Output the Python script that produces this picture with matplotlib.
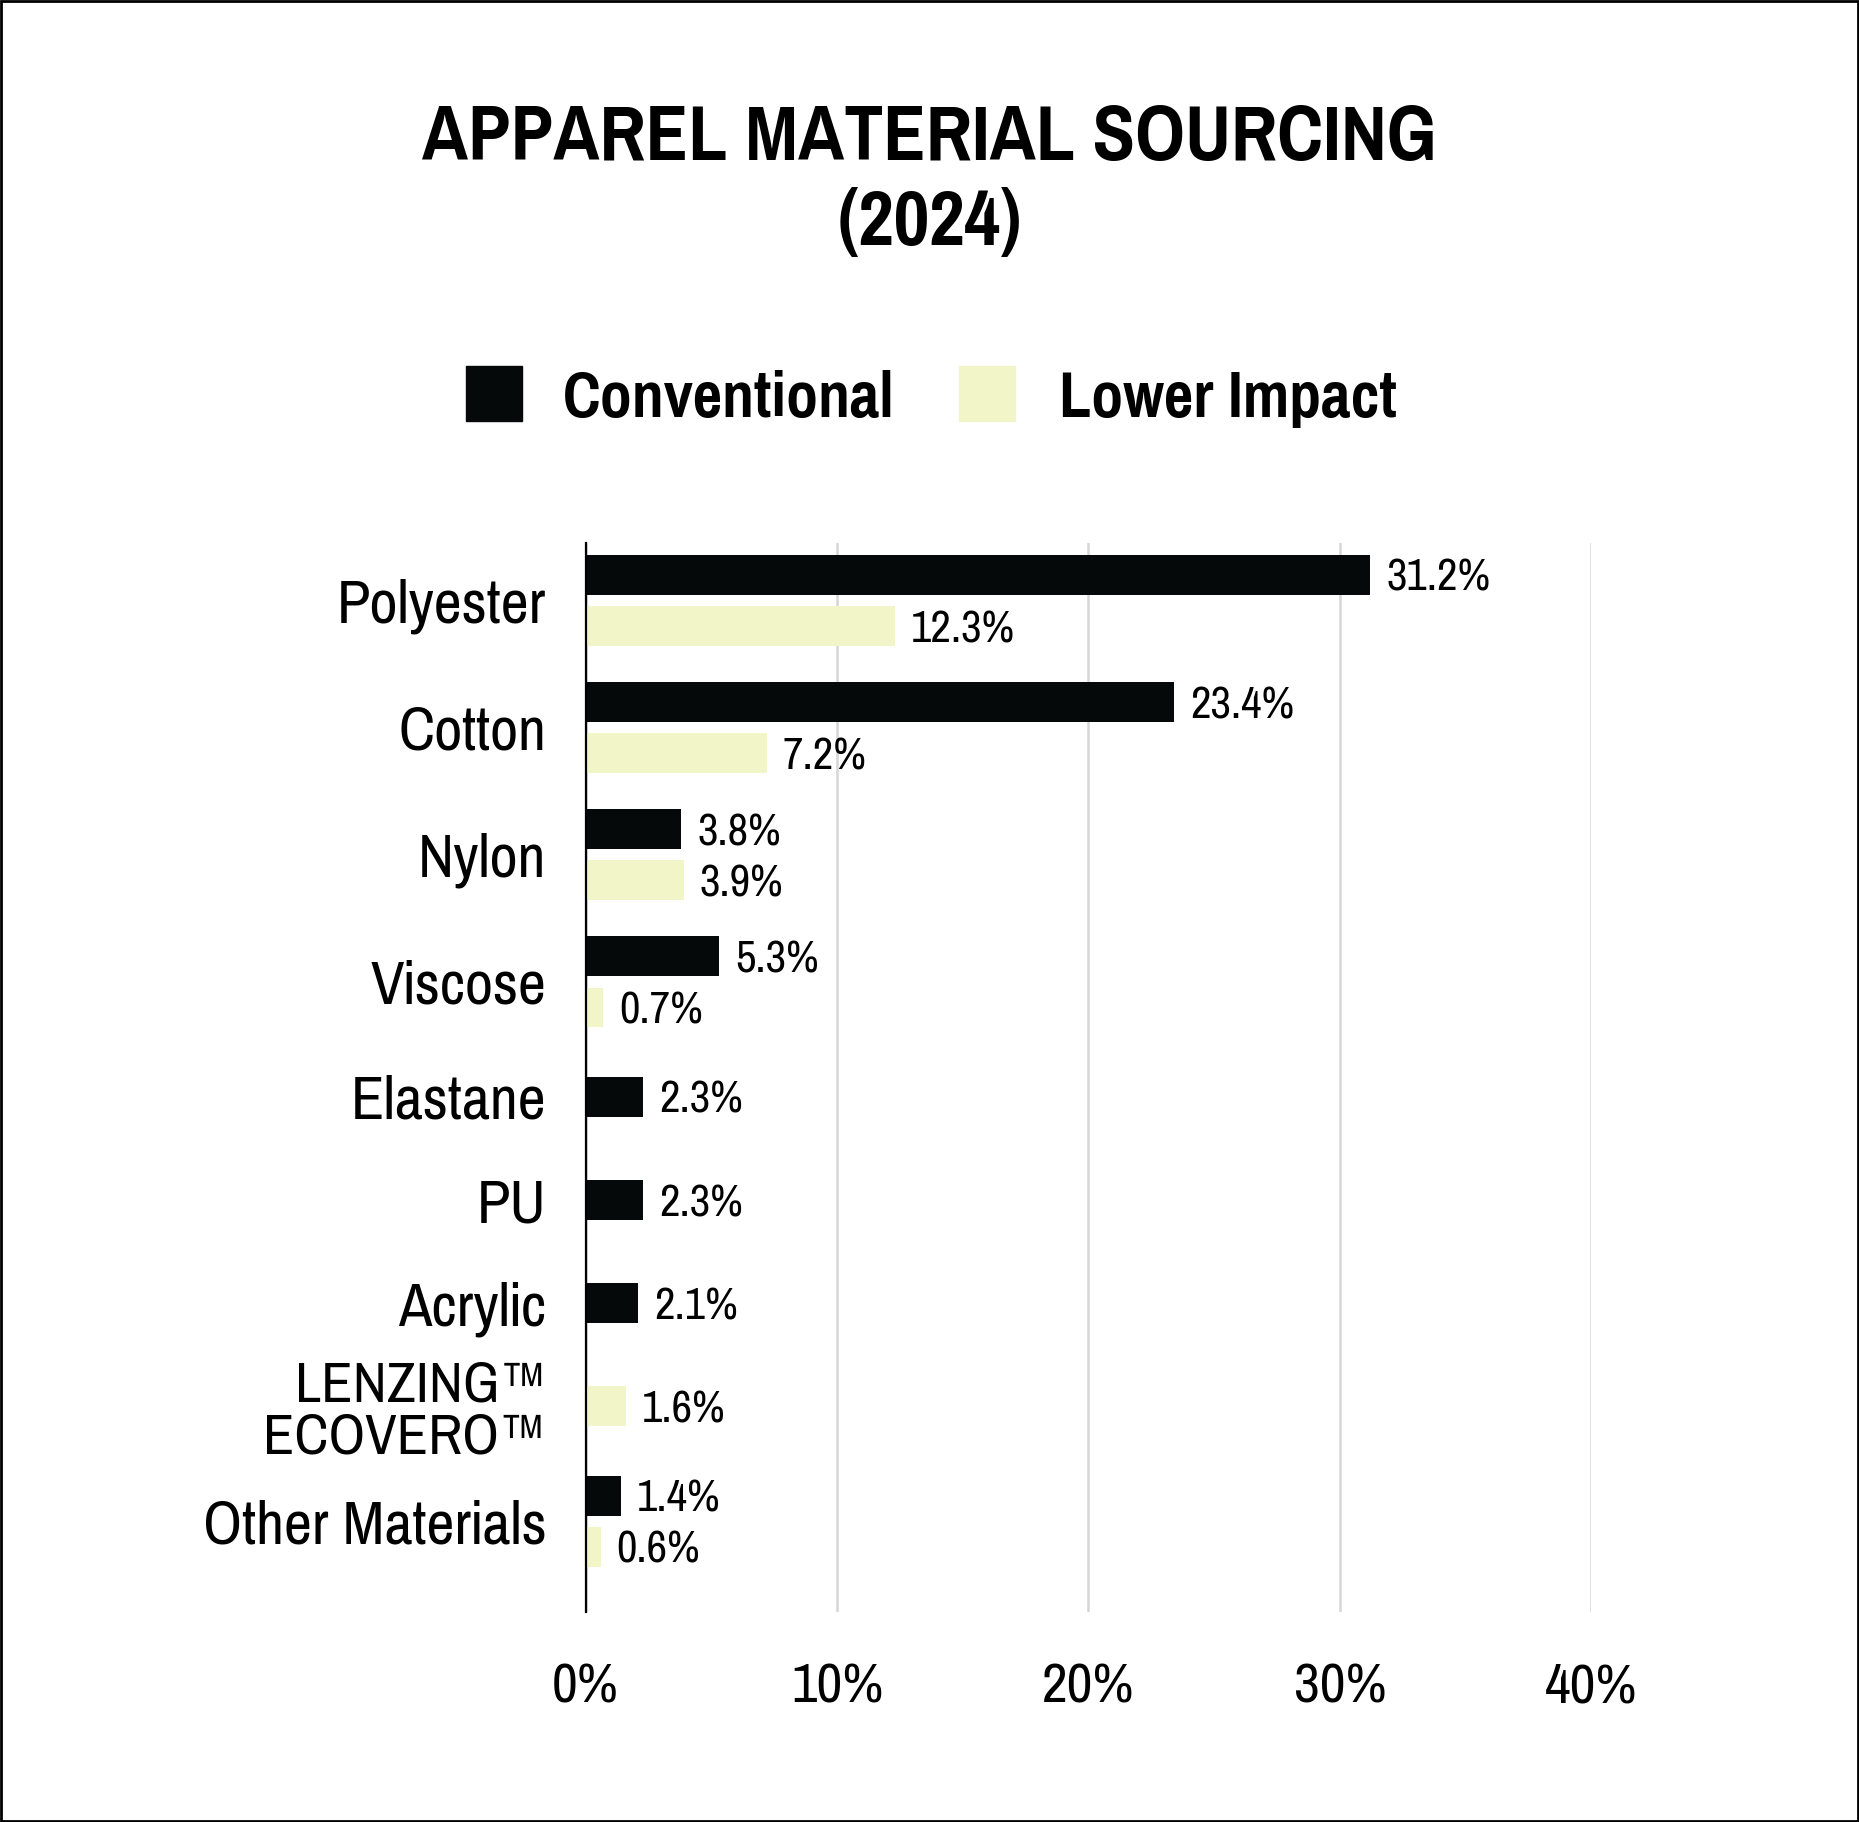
import numpy as np
import matplotlib
matplotlib.use("Agg")
import matplotlib.pyplot as plt
from matplotlib.patches import Rectangle

plt.rcParams['font.family'] = ['Pragati Narrow', 'Archivo Narrow', 'DejaVu Sans']

# dados
categorias = ["Polyester", "Cotton", "Nylon", "Viscose", "Elastane", "PU",
              "Acrylic", "LENZING\u2122\nECOVERO\u2122", "Other Materials"]
convencional = [31.2, 23.4, 3.8, 5.3, 2.3, 2.3, 2.1, np.nan, 1.4]
menor_impacto = [12.3, 7.2, 3.9, 0.7, np.nan, np.nan, np.nan, 1.6, 0.6]
series = ["Conventional", "Lower Impact"]
x_ticks = [0, 10, 20, 30, 40]

COR_CONV = "#05090a"
COR_LOW = "#f2f5c8"

# posicoes: categorias com duas barras ocupam mais espaco
n_barras = [int(not np.isnan(a)) + int(not np.isnan(b)) for a, b in zip(convencional, menor_impacto)]
pos = [0.0]
for i in range(1, len(categorias)):
    pares = (n_barras[i - 1] == 2) + (n_barras[i] == 2)
    pos.append(pos[-1] + 0.86 + 0.10 * pares)
pos = np.array(pos)

ALTURA = 0.33
DESLOC = 0.213

fig = plt.figure(figsize=(18.59, 18.22), dpi=100)
ax = fig.add_axes([0.315, 0.115, 0.541, 0.587])

for i, y in enumerate(pos):
    c = convencional[i]
    l = menor_impacto[i]
    if n_barras[i] == 2:
        yc, yl = y - DESLOC, y + DESLOC
    else:
        yc = yl = y
    if not np.isnan(c):
        ax.barh(yc, c, height=ALTURA, color=COR_CONV, zorder=3)
        ax.annotate(f"{c}%", (c, yc), xytext=(16, 0), textcoords='offset pixels',
                    ha='left', va='center_baseline', fontsize=35, color='black')
    if not np.isnan(l):
        ax.barh(yl, l, height=ALTURA, color=COR_LOW, zorder=3)
        ax.annotate(f"{l}%", (l, yl), xytext=(16, 0), textcoords='offset pixels',
                    ha='left', va='center_baseline', fontsize=35, color='black')

for i, y in enumerate(pos):
    tam = 45 if "\n" in categorias[i] else 48
    ax.text(-0.039, y, categorias[i], transform=ax.get_yaxis_transform(),
            ha='right', va='center_baseline', fontsize=tam, linespacing=1.0)

ax.set_xlim(0, 40)
ax.set_ylim(pos[-1] + 0.76, -0.48)
ax.set_xticks(x_ticks)
ax.set_xticklabels([f"{t}%" for t in x_ticks], fontsize=44)
ax.tick_params(axis='x', length=0, pad=36)
ax.set_yticks([])
ax.grid(axis='x', color='#d6d6d6', linewidth=1.8, zorder=0)
for s in ['top', 'right', 'bottom']:
    ax.spines[s].set_visible(False)
ax.spines['left'].set_linewidth(1.6)
ax.spines['left'].set_zorder(4)

# titulo
fig.text(0.5, 0.9122, "APPAREL MATERIAL SOURCING", ha='center', va='baseline',
         fontsize=61, fontweight='bold')
fig.text(0.5, 0.8655, "(2024)", ha='center', va='baseline', fontsize=61, fontweight='bold')

# legenda
W, H = 1859, 1822
for cor, nome, xq, xt in [(COR_CONV, series[0], 466, 563), (COR_LOW, series[1], 959, 1059)]:
    fig.patches.append(Rectangle((xq / W, 1 - 421 / H), 56 / W, 55 / H,
                                 transform=fig.transFigure, color=cor))
    fig.text(xt / W, 1 - 394 / H, nome, ha='left', va='center_baseline', fontsize=50, fontweight='bold')

# moldura
fig.patches.append(Rectangle((0.0005, 0.0005), 0.999, 0.999, transform=fig.transFigure,
                             fill=False, edgecolor='black', linewidth=2))

fig.savefig("out.png", dpi=100, facecolor='white')
